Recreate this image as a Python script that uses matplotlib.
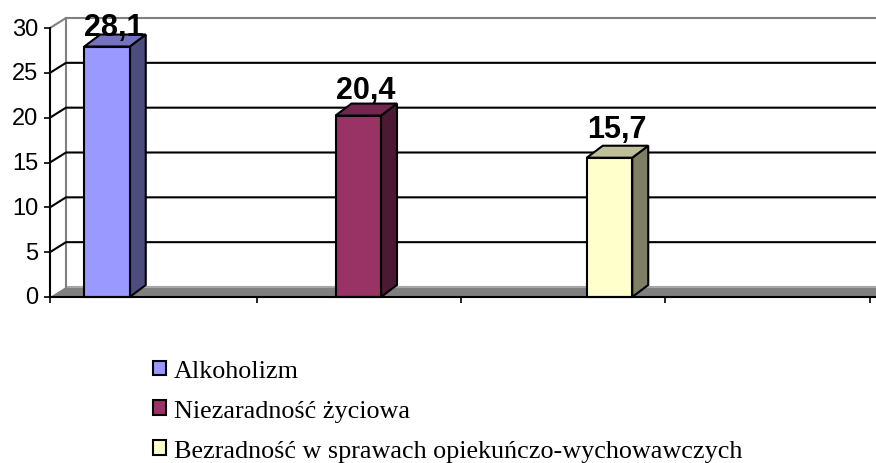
import numpy as np
import matplotlib
matplotlib.use('Agg')
import matplotlib.pyplot as plt
from matplotlib.patches import Polygon, Patch
from matplotlib.transforms import ScaledTranslation

# data
labels = ['Alkoholizm', 'Niezaradność życiowa', 'Bezradność w sprawach opiekuńczo-wychowawczych']
values = [28.1, 20.4, 15.7]
value_text = ['28,1', '20,4', '15,7']
y_ticks = [0, 5, 10, 15, 20, 25, 30]

front = ['#9999FF', '#993366', '#FFFFCC']
side = ['#4C4C7F', '#4C1933', '#7F7F66']
top = ['#7373BF', '#732650', '#BFBF99']

# labels do not sit at the same height over the bars in the original, px
label_nudge = [0, 6, 9]

W, H = 876, 464
fig = plt.figure(figsize=(W / 100, H / 100), dpi=100)
ax = fig.add_axes([50 / W, (H - 298) / H, (W - 50) / W, 269 / H])

# one x unit is the gap between bars, 251 px
px_x = 1 / 251.25
px_y = 30 / 269
x0 = -57 * px_x
x1 = x0 + (W - 50) * px_x
ax.set_xlim(x0, x1)
ax.set_ylim(0, 30)

wall_dx = 16 * px_x
wall_dy = 10 * px_y
bar_dx = 16 * px_x
bar_dy = 12 * px_y
bar_w = 45.5 * px_x
inset = 1.5 * px_y
lw = 1.5

# floor
ax.add_patch(Polygon([(x0, 0), (x0 + wall_dx, wall_dy), (x1, wall_dy), (x1, 0)],
                     closed=True, facecolor='#808080', edgecolor='none', clip_on=False, zorder=1))
ax.plot([x0 + wall_dx, x1], [wall_dy, wall_dy], color='#A6A6A6', lw=lw, zorder=1.5, clip_on=False)

# back wall and grid lines
ax.plot([x0 + wall_dx, x0 + wall_dx], [wall_dy, 30 + wall_dy], color='#808080', lw=lw, zorder=1.5, clip_on=False)
for t in y_ticks[1:]:
    c = '#808080' if t == 30 else 'black'
    ax.plot([x0, x0 + wall_dx, x1], [t, t + wall_dy, t + wall_dy], color=c, lw=lw, zorder=2, clip_on=False)

# bars
xs = np.arange(len(values))
for i, v in enumerate(values):
    l = xs[i] - bar_w / 2
    r = xs[i] + bar_w / 2
    h = v - inset
    ax.add_patch(Polygon([(r, 0), (r + bar_dx, bar_dy), (r + bar_dx, h + bar_dy), (r, h)],
                         closed=True, facecolor=side[i], edgecolor='black', lw=lw, zorder=3, clip_on=False))
    ax.add_patch(Polygon([(l, h), (l + bar_dx, h + bar_dy), (r + bar_dx, h + bar_dy), (r, h)],
                         closed=True, facecolor=top[i], edgecolor='black', lw=lw, zorder=3, clip_on=False))
    ax.add_patch(Polygon([(l, 0), (l, h), (r, h), (r, 0)],
                         closed=True, facecolor=front[i], edgecolor='black', lw=lw, zorder=4, clip_on=False))
    ax.text(xs[i] + 7 * px_x, h + bar_dy + label_nudge[i] * px_y, value_text[i], ha='center', va='baseline',
            fontsize=22, fontweight='bold', family='Liberation Sans', color='black', zorder=5, clip_on=False)

# axes
for s in ['top', 'right']:
    ax.spines[s].set_visible(False)
for s in ['left', 'bottom']:
    ax.spines[s].set_linewidth(lw)
    ax.spines[s].set_zorder(6)
ax.set_yticks(y_ticks)
ax.set_xticks(x0 + np.array([0, 207, 411, 615, 820]) * px_x)
ax.set_xticklabels([])
ax.tick_params(axis='y', length=4.5, width=1.2, pad=4, labelsize=17, labelfontfamily='Liberation Sans')
ax.tick_params(axis='x', length=4.5, width=1.2)
# tick labels sit 2 px above their ticks
up = ScaledTranslation(0, 2 / 100, fig.dpi_scale_trans)
for t in ax.get_yticklabels():
    t.set_transform(t.get_transform() + up)

handles = [Patch(facecolor=front[i], edgecolor='black', lw=lw) for i in range(3)]
fig.legend(handles, labels, loc='lower left', bbox_to_anchor=(148 / W, -4 / H), frameon=False,
           prop={'family': 'Liberation Serif', 'size': 18.8}, labelspacing=0.68, handlelength=0.5,
           handleheight=0.5, handletextpad=0.3, borderpad=0.2, borderaxespad=0)

fig.savefig('out.png', dpi=100)
